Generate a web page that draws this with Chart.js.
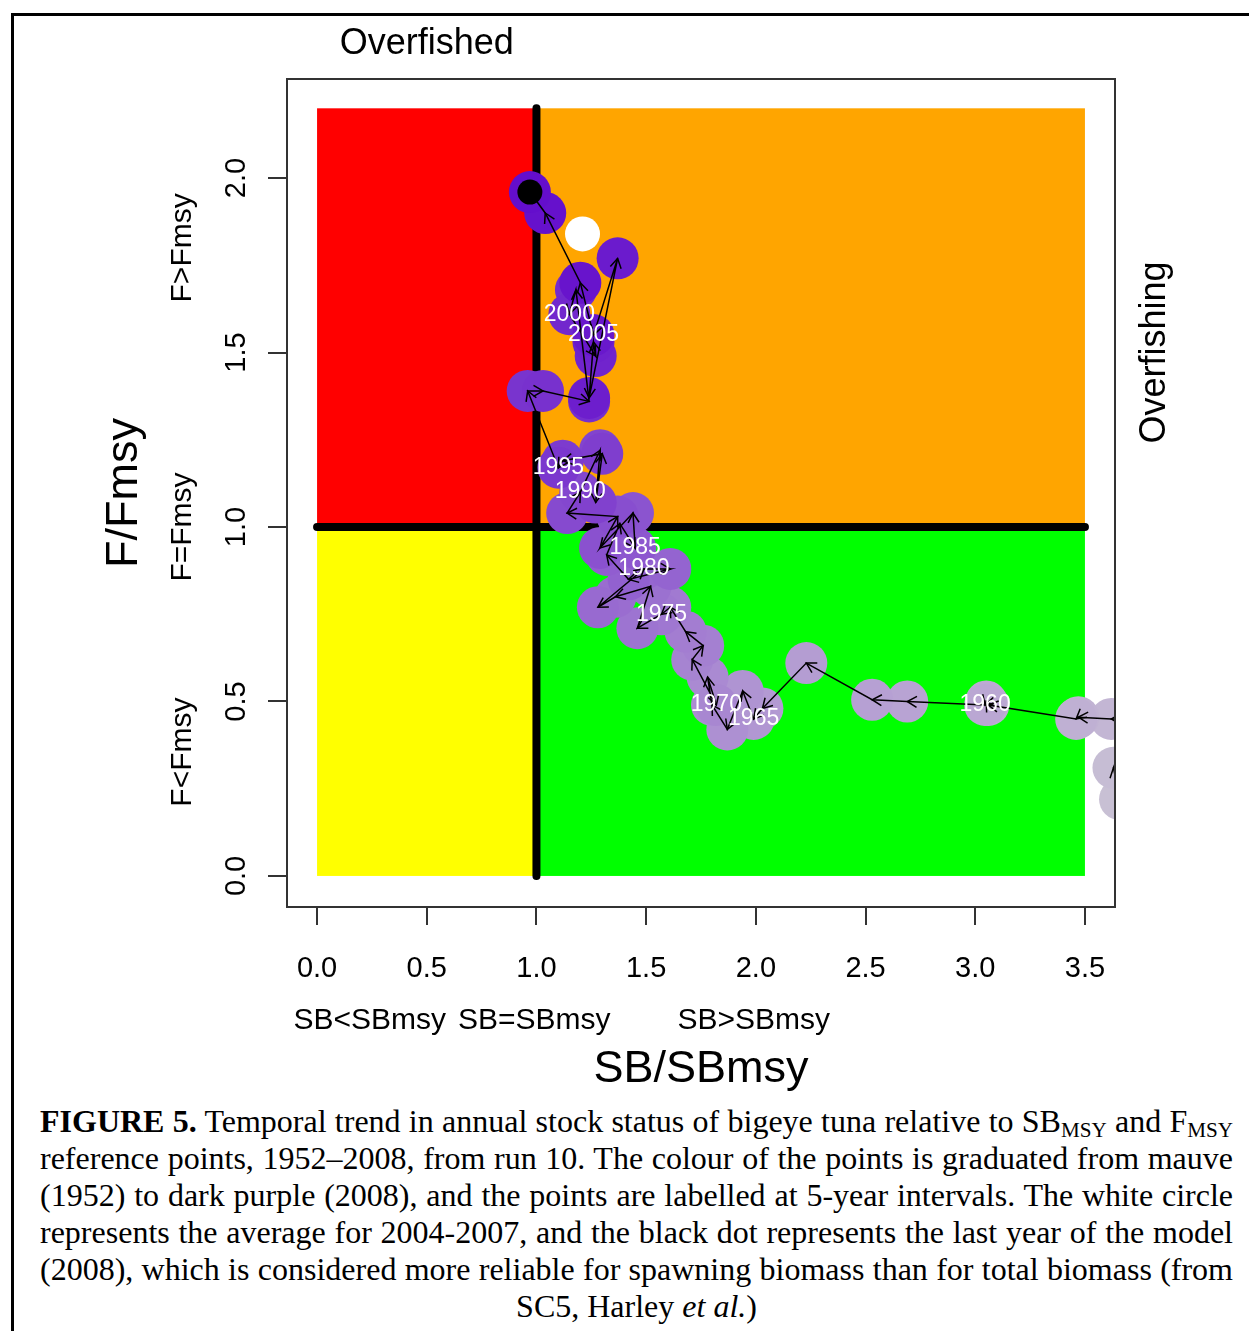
<!DOCTYPE html>
<html>
<head>
<meta charset="utf-8">
<script src="https://cdn.jsdelivr.net/npm/chart.js@4.4.0/dist/chart.umd.min.js"></script>
<style>
body{margin:0;background:#fff;width:1249px;height:1331px;overflow:hidden;position:relative;}
#frame{position:absolute;left:11px;top:13px;width:1400px;height:1500px;border-left:3px solid #000;border-top:3px solid #000;}
#wrap{position:absolute;left:0;top:0;width:1249px;height:1100px;}
#caption{position:absolute;left:40px;top:1103px;width:1193px;font-family:"Liberation Serif","Times New Roman",serif;font-size:32px;line-height:37px;text-align:justify;text-align-last:center;color:#000;}
#caption sub{font-size:0.66em;line-height:0;vertical-align:-0.22em;}
</style>
</head>
<body>
<div id="frame"></div>
<div id="wrap"><canvas id="kobe" width="1249" height="1100"></canvas></div>
<div id="caption"><b>FIGURE 5.</b> Temporal trend in annual stock status of bigeye tuna relative to SB<sub>MSY</sub> and F<sub>MSY</sub> reference points, 1952–2008, from run 10. The colour of the points is graduated from mauve (1952) to dark purple (2008), and the points are labelled at 5-year intervals. The white circle represents the average for 2004-2007, and the black dot represents the last year of the model (2008), which is considered more reliable for spawning biomass than for total biomass (from SC5, Harley <i>et al.</i>)</div>
<script>
// Kobe plot, bigeye tuna run 10
const years = [1952, 1953, 1954, 1955, 1956, 1957, 1958, 1959, 1960, 1961, 1962, 1963, 1964, 1965,
  1966, 1967, 1968, 1969, 1970, 1971, 1972, 1973, 1974, 1975, 1976, 1977, 1978, 1979, 1980, 1981,
  1982, 1983, 1984, 1985, 1986, 1987, 1988, 1989, 1990, 1991, 1992, 1993, 1994, 1995, 1996, 1997,
  1998, 1999, 2000, 2001, 2002, 2003, 2004, 2005, 2006, 2007, 2008];
const sbRatio = [3.66, 3.63, 3.71, 3.62, 3.47, 3.46, 3.06, 3.05, 3.045, 2.69, 2.53, 2.23, 2.03, 1.99,
  1.94, 1.87, 1.80, 1.78, 1.82, 1.71, 1.76, 1.68, 1.61, 1.57, 1.46, 1.52, 1.36, 1.28, 1.49, 1.61,
  1.42, 1.32, 1.38, 1.45, 1.44, 1.29, 1.37, 1.14, 1.20, 1.29, 1.27, 1.30, 1.12, 1.10, 0.96, 1.03,
  1.24, 1.18, 1.15, 1.27, 1.26, 1.24, 1.37, 1.26, 1.20, 1.04, 0.97];
const fRatio = [0.22, 0.31, 0.45, 0.45, 0.455, 0.45, 0.49, 0.50, 0.49, 0.50, 0.505, 0.61, 0.48, 0.45,
  0.53, 0.42, 0.49, 0.57, 0.49, 0.62, 0.66, 0.70, 0.77, 0.75, 0.71, 0.83, 0.80, 0.77, 0.88, 0.88,
  0.85, 0.92, 1.01, 0.94, 1.04, 0.94, 1.03, 1.04, 1.10, 1.22, 1.07, 1.21, 1.19, 1.17, 1.39, 1.39,
  1.36, 1.68, 1.61, 1.49, 1.53, 1.37, 1.77, 1.55, 1.70, 1.90, 1.96];
const avgSB = [1.21];   // average 2004-2007
const avgF = [1.84];
const labelYears = [1960, 1965, 1970, 1975, 1980, 1985, 1990, 1995, 2000, 2005];
const xTicks = [0, 0.5, 1, 1.5, 2, 2.5, 3, 3.5];
const yTicks = [0, 0.5, 1, 1.5, 2];
const zoneX = [0, 1, 3.5];
const zoneY = [0, 1, 2.2];
const fZoneNames = ['F<Fmsy', 'F=Fmsy', 'F>Fmsy'];
const fZoneAt = [0.355, 1.0, 1.8];
const sbZoneNames = ['SB<SBmsy', 'SB=SBmsy', 'SB>SBmsy'];
const sbZoneAt = [0.24, 0.99, 1.99];

const SANS = '"Liberation Sans", Arial, sans-serif';

// mauve (1952) -> dark purple (2008)
const c0 = [200, 192, 212], c1 = [100, 14, 204];
const pointColors = years.map((y, i) => {
  const t = i / (years.length - 1);
  return 'rgb(' + c0.map((c, k) => Math.round(c + (c1[k] - c) * t)).join(',') + ')';
});

const track = years.map((y, i) => ({x: sbRatio[i], y: fRatio[i]}));
const last = track.length - 1;

const zonesPlugin = {
  id: 'zones',
  beforeDatasetsDraw(chart) {
    const {ctx, scales: {x, y}} = chart;
    ctx.save();
    const fill = (x0, x1, y0, y1, col) => {
      ctx.fillStyle = col;
      ctx.fillRect(x.getPixelForValue(x0), y.getPixelForValue(y1),
        x.getPixelForValue(x1) - x.getPixelForValue(x0), y.getPixelForValue(y0) - y.getPixelForValue(y1));
    };
    fill(zoneX[0], zoneX[1], zoneY[1], zoneY[2], '#ff0000');
    fill(zoneX[1], zoneX[2], zoneY[1], zoneY[2], '#ffa500');
    fill(zoneX[0], zoneX[1], zoneY[0], zoneY[1], '#ffff00');
    fill(zoneX[1], zoneX[2], zoneY[0], zoneY[1], '#00ff00');
    ctx.strokeStyle = '#000';
    ctx.lineWidth = 8;
    ctx.lineCap = 'round';
    ctx.beginPath();
    ctx.moveTo(x.getPixelForValue(1), y.getPixelForValue(zoneY[0]));
    ctx.lineTo(x.getPixelForValue(1), y.getPixelForValue(zoneY[2]));
    ctx.moveTo(x.getPixelForValue(zoneX[0]), y.getPixelForValue(1));
    ctx.lineTo(x.getPixelForValue(zoneX[2]), y.getPixelForValue(1));
    ctx.stroke();
    ctx.restore();
  },
  afterDatasetDraw(chart, args) {
    if (args.index !== 1) return;
    const {ctx, chartArea: a} = chart;
    const pts = args.meta.data;
    ctx.save();
    ctx.beginPath();
    ctx.rect(a.left, a.top, a.right - a.left, a.bottom - a.top);
    ctx.clip();
    // arrow heads
    ctx.strokeStyle = '#000';
    ctx.lineWidth = 1.5;
    const len = 11, ang = Math.PI / 6;
    for (let i = 1; i < pts.length; i++) {
      const p0 = pts[i - 1], p1 = pts[i];
      const dx = p1.x - p0.x, dy = p1.y - p0.y;
      if (Math.hypot(dx, dy) < 1) continue;
      const t = Math.atan2(dy, dx);
      ctx.beginPath();
      ctx.moveTo(p1.x - len * Math.cos(t - ang), p1.y - len * Math.sin(t - ang));
      ctx.lineTo(p1.x, p1.y);
      ctx.lineTo(p1.x - len * Math.cos(t + ang), p1.y - len * Math.sin(t + ang));
      ctx.stroke();
    }
    // year labels
    ctx.fillStyle = '#fff';
    ctx.font = '23px ' + SANS;
    ctx.textAlign = 'center';
    ctx.textBaseline = 'middle';
    labelYears.forEach(yr => {
      const p = pts[years.indexOf(yr)];
      ctx.fillText(String(yr), p.x, p.y);
    });
    ctx.restore();
  },
  afterDraw(chart) {
    const {ctx, chartArea: a, scales: {x, y}} = chart;
    ctx.save();
    ctx.strokeStyle = '#333';
    ctx.lineWidth = 2;
    ctx.strokeRect(a.left, a.top, a.right - a.left, a.bottom - a.top);
    ctx.fillStyle = '#000';
    ctx.textAlign = 'center';
    ctx.textBaseline = 'middle';
    ctx.font = '36px ' + SANS;
    ctx.fillText('Overfished', x.getPixelForValue(0.5), a.top - 35);
    ctx.save();
    ctx.translate(a.right + 40, y.getPixelForValue(1.5));
    ctx.rotate(-Math.PI / 2);
    ctx.fillText('Overfishing', 0, 0);
    ctx.restore();
    ctx.font = '30px ' + SANS;
    fZoneNames.forEach((t, i) => {
      ctx.save();
      ctx.translate(a.left - 104, y.getPixelForValue(fZoneAt[i]));
      ctx.rotate(-Math.PI / 2);
      ctx.fillText(t, 0, 0);
      ctx.restore();
    });
    sbZoneNames.forEach((t, i) => {
      ctx.fillText(t, x.getPixelForValue(sbZoneAt[i]), a.bottom + 114);
    });
    ctx.restore();
  }
};

new Chart(document.getElementById('kobe'), {
  type: 'scatter',
  data: {
    datasets: [
      {label: '2008', data: [track[last]], pointRadius: 12.5, pointHoverRadius: 12.5,
        backgroundColor: '#000', borderWidth: 0, clip: 0},
      {label: 'trajectory', data: track, showLine: true, borderColor: '#000', borderWidth: 1.5,
        pointRadius: 0, pointHoverRadius: 0, tension: 0, clip: 0},
      {label: 'Average 2004-2007', data: [{x: avgSB[0], y: avgF[0]}], pointRadius: 17.5,
        pointHoverRadius: 17.5, backgroundColor: '#fff', borderWidth: 0, clip: 0},
      {label: 'Years', data: track, pointRadius: 21, pointHoverRadius: 21,
        backgroundColor: pointColors, borderWidth: 0, clip: 0}
    ]
  },
  options: {
    responsive: false,
    animation: false,
    devicePixelRatio: 1,
    layout: {padding: {top: 79, right: 134, left: 0, bottom: 0}},
    plugins: {legend: {display: false}, tooltip: {enabled: false}},
    scales: {
      x: {
        type: 'linear', min: -0.137, max: 3.637,
        afterBuildTicks: s => { s.ticks = xTicks.map(v => ({value: v})); },
        afterFit: s => { s.height = 193; },
        ticks: {callback: v => v.toFixed(1), color: '#000', padding: 27,
          font: {family: SANS, size: 29}},
        grid: {drawOnChartArea: false, drawTicks: true, tickLength: 18, color: '#333', lineWidth: 2},
        border: {display: false},
        title: {display: true, text: 'SB/SBmsy', color: '#000', font: {family: SANS, size: 45},
          padding: {top: 0, bottom: 3}}
      },
      y: {
        type: 'linear', min: -0.089, max: 2.284,
        afterBuildTicks: s => { s.ticks = yTicks.map(v => ({value: v})); },
        afterFit: s => { s.width = 287; },
        ticks: {callback: v => v.toFixed(1), color: '#000', padding: 11, minRotation: 90,
          maxRotation: 90, crossAlign: 'center', font: {family: SANS, size: 29}},
        grid: {drawOnChartArea: false, drawTicks: true, tickLength: 19, color: '#333', lineWidth: 2},
        border: {display: false},
        title: {display: true, text: 'F/Fmsy', color: '#000', font: {family: SANS, size: 45},
          padding: {top: 98, bottom: 0}}
      }
    }
  },
  plugins: [zonesPlugin]
});
</script>
</body>
</html>
